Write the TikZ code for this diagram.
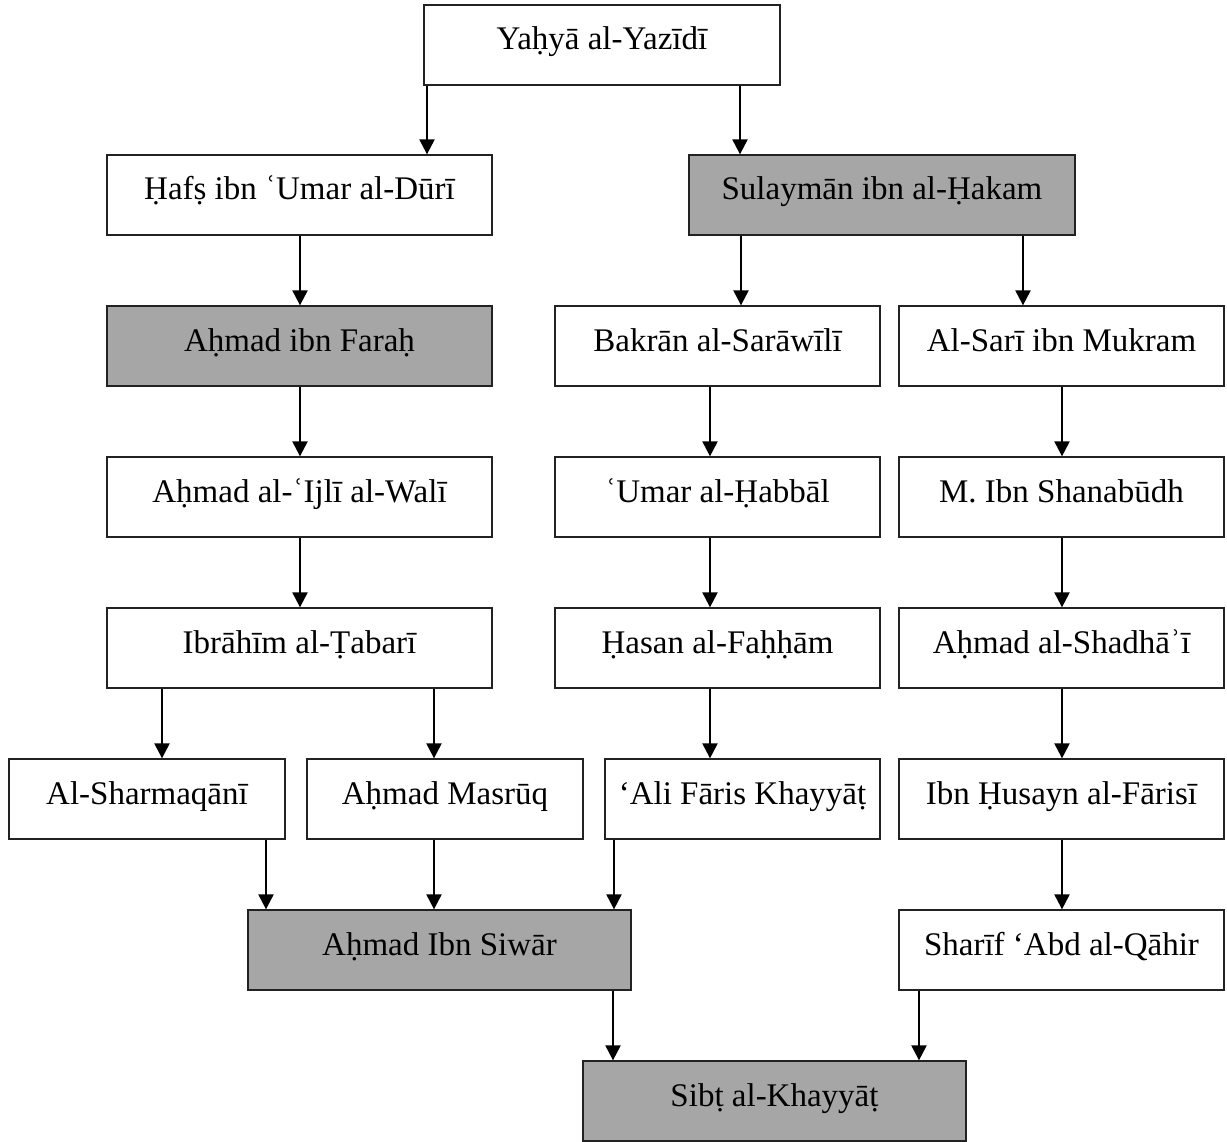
\documentclass[tikz,border=0pt]{standalone}
\usepackage{fontspec}
\setmainfont{Liberation Serif}
\usetikzlibrary{arrows.meta}
\definecolor{boxgray}{HTML}{A6A6A6}
\definecolor{boxline}{HTML}{222222}
\begin{document}
\begin{tikzpicture}[x=1pt,y=-1pt,
  box/.style={draw=boxline, line width=1.3pt, rectangle, inner sep=0pt,
    text height=45pt, text depth=35pt, font=\fontsize{33}{39}\selectfont},
  wbox/.style={box, fill=white},
  gbox/.style={box, fill=boxgray},
  arr/.style={line width=2.2pt, -{Triangle[width=15pt,length=15pt]}}
]
\useasboundingbox[fill=white] (0,0) rectangle (1227,1142);

% row 0
\node[wbox, minimum width=356pt] (yahya) at (602,45) {Yaḥyā al-Yazīdī};
% row 1
\node[wbox, minimum width=385pt] (hafs) at (299.5,195) {Ḥafṣ ibn ʿUmar al-Dūrī};
\node[gbox, minimum width=386pt] (sulayman) at (882,195) {Sulaymān ibn al-Ḥakam};
% row 2
\node[gbox, minimum width=385pt] (farah) at (299.5,346) {Aḥmad ibn Faraḥ};
\node[wbox, minimum width=325pt] (bakran) at (717.5,346) {Bakrān al-Sarāwīlī};
\node[wbox, minimum width=325pt] (sari) at (1061.5,346) {Al-Sarī ibn Mukram};
% row 3
\node[wbox, minimum width=385pt] (ijli) at (299.5,497) {Aḥmad al-ʿIjlī al-Walī};
\node[wbox, minimum width=325pt] (umar) at (717.5,497) {ʿUmar al-Ḥabbāl};
\node[wbox, minimum width=325pt] (shanabudh) at (1061.5,497) {M. Ibn Shanabūdh};
% row 4
\node[wbox, minimum width=385pt] (tabari) at (299.5,648) {Ibrāhīm al-Ṭabarī};
\node[wbox, minimum width=325pt] (hasan) at (717.5,648) {Ḥasan al-Faḥḥām};
\node[wbox, minimum width=325pt] (shadhai) at (1061.5,648) {Aḥmad al-Shadhāʾī};
% row 5
\node[wbox, minimum width=276pt] (sharmaqani) at (147,799) {Al-Sharmaqānī};
\node[wbox, minimum width=276pt] (masruq) at (445,799) {Aḥmad Masrūq};
\node[wbox, minimum width=275pt] (alifaris) at (742.5,799) {‘Ali Fāris Khayyāṭ};
\node[wbox, minimum width=325pt] (husayn) at (1061.5,799) {Ibn Ḥusayn al-Fārisī};
% row 6
\node[gbox, minimum width=383pt] (siwar) at (439.5,950) {Aḥmad Ibn Siwār};
\node[wbox, minimum width=325pt] (sharif) at (1061.5,950) {Sharīf ‘Abd al-Qāhir};
% row 7
\node[gbox, minimum width=383pt] (sibt) at (774.5,1101) {Sibṭ al-Khayyāṭ};

% arrow columns
\coordinate (xa) at (427,0);
\coordinate (xb) at (740,0);
\coordinate (xc) at (300,0);
\coordinate (xd) at (162,0);
\coordinate (xe) at (434,0);
\coordinate (xf) at (741,0);
\coordinate (xg) at (1023,0);
\coordinate (xh) at (710,0);
\coordinate (xi) at (1062,0);
\coordinate (xj) at (266,0);
\coordinate (xk) at (614,0);
\coordinate (xl) at (613,0);
\coordinate (xm) at (919,0);

\draw[arr] (yahya.south -| xa) -- (hafs.north -| xa);
\draw[arr] (yahya.south -| xb) -- (sulayman.north -| xb);
\draw[arr] (hafs.south -| xc) -- (farah.north -| xc);
\draw[arr] (farah.south -| xc) -- (ijli.north -| xc);
\draw[arr] (ijli.south -| xc) -- (tabari.north -| xc);
\draw[arr] (tabari.south -| xd) -- (sharmaqani.north -| xd);
\draw[arr] (tabari.south -| xe) -- (masruq.north -| xe);
\draw[arr] (sulayman.south -| xf) -- (bakran.north -| xf);
\draw[arr] (sulayman.south -| xg) -- (sari.north -| xg);
\draw[arr] (bakran.south -| xh) -- (umar.north -| xh);
\draw[arr] (umar.south -| xh) -- (hasan.north -| xh);
\draw[arr] (hasan.south -| xh) -- (alifaris.north -| xh);
\draw[arr] (sari.south -| xi) -- (shanabudh.north -| xi);
\draw[arr] (shanabudh.south -| xi) -- (shadhai.north -| xi);
\draw[arr] (shadhai.south -| xi) -- (husayn.north -| xi);
\draw[arr] (husayn.south -| xi) -- (sharif.north -| xi);
\draw[arr] (sharmaqani.south -| xj) -- (siwar.north -| xj);
\draw[arr] (masruq.south -| xe) -- (siwar.north -| xe);
\draw[arr] (alifaris.south -| xk) -- (siwar.north -| xk);
\draw[arr] (siwar.south -| xl) -- (sibt.north -| xl);
\draw[arr] (sharif.south -| xm) -- (sibt.north -| xm);
\end{tikzpicture}
\end{document}
